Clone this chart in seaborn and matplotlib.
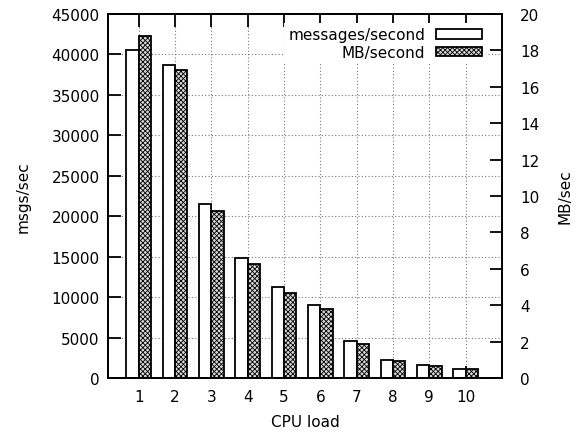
import pandas as pd
import matplotlib
matplotlib.use("Agg")
import matplotlib.pyplot as plt
import seaborn as sns
from matplotlib.patches import Patch

# ── Data ────────────────────────────────────────────────────────────────────

cpu_load = [1, 2, 3, 4, 5, 6, 7, 8, 9, 10]
msgs_per_sec = [40500, 38700, 21500, 14800, 11200, 9050, 4600, 2280, 1600, 1150]
mb_per_sec = [18.8, 16.9, 9.18, 6.25, 4.68, 3.78, 1.88, 0.95, 0.64, 0.47]
series = ["messages/second", "MB/second"]

msgs_df = pd.DataFrame({"load": cpu_load, "value": msgs_per_sec, "series": series[0]})
mb_df = pd.DataFrame({"load": cpu_load, "value": mb_per_sec, "series": series[1]})

# ── Style ───────────────────────────────────────────────────────────────────

sns.set_style("white")
plt.rcParams["font.family"] = ["DejaVu Sans"]
plt.rcParams["text.color"] = "black"
plt.rcParams["axes.labelcolor"] = "black"
plt.rcParams["xtick.color"] = "black"
plt.rcParams["ytick.color"] = "black"
plt.rcParams["hatch.linewidth"] = 0.6
plt.rcParams["hatch.color"] = "#333333"

HATCH = "xxxxxxx"
FS = 11

fig, ax = plt.subplots(figsize=(5.76, 4.39), dpi=100)
fig.subplots_adjust(left=0.1875, right=0.8715, bottom=0.1367, top=0.9658)
ax2 = ax.twinx()

bar_kw = dict(x="load", y="value", hue="series", hue_order=series,
              errorbar=None, width=0.68, dodge=True,
              edgecolor="black", linewidth=1.3, legend=False)

# messages on the left axis, MB on the right axis; hue keeps the dodge offsets
sns.barplot(data=msgs_df, ax=ax, palette=["white", "white"], **bar_kw)
sns.barplot(data=mb_df, ax=ax2, palette=["#d8d8d8", "#d8d8d8"], **bar_kw)
for p in ax2.patches:
    p.set_hatch(HATCH)

# ── Axes ────────────────────────────────────────────────────────────────────

ax.set_xlim(-0.846, 10.0)
ax.set_ylim(0, 45000)
ax.set_yticks(range(0, 45001, 5000))
ax2.set_ylim(0, 20)
ax2.set_yticks(range(0, 21, 2))
ax.set_xticks(range(len(cpu_load)))
ax.set_xticklabels([str(c) for c in cpu_load])

ax.set_axisbelow(True)
ax.grid(True, which="major", axis="both", linestyle=(0, (1, 2)),
        color="#777777", linewidth=0.8)
ax2.grid(False)

for spine in list(ax.spines.values()) + list(ax2.spines.values()):
    spine.set_linewidth(1.3)
    spine.set_color("black")

ax.tick_params(axis="y", direction="in", length=9, width=1.3, pad=6,
               labelsize=FS, right=False)
ax.tick_params(axis="x", direction="in", length=9, width=1.3, pad=8,
               labelsize=FS, top=True, bottom=True)
ax2.tick_params(axis="y", direction="in", length=9, width=1.3, pad=13,
                labelsize=FS, left=False)

ax.set_xlabel("CPU load", fontsize=FS, labelpad=7)
ax.set_ylabel("msgs/sec", fontsize=FS, labelpad=15)
ax2.set_ylabel("MB/sec", fontsize=FS, labelpad=13)

handles = [Patch(facecolor="white", edgecolor="black", linewidth=1.3),
           Patch(facecolor="#d8d8d8", edgecolor="black", linewidth=1.3, hatch=HATCH)]
leg = ax2.legend(handles, series, loc="upper right", bbox_to_anchor=(0.98, 0.997),
                 markerfirst=False, fontsize=FS, handlelength=3.0, handleheight=0.55,
                 handletextpad=0.7, labelspacing=0.15, borderpad=0.3,
                 frameon=True, fancybox=False, framealpha=1.0)
leg.get_frame().set_edgecolor("none")
leg.get_frame().set_facecolor("white")
for t in leg.get_texts():
    t.set_ha("right")

fig.savefig("out.png", dpi=100)
